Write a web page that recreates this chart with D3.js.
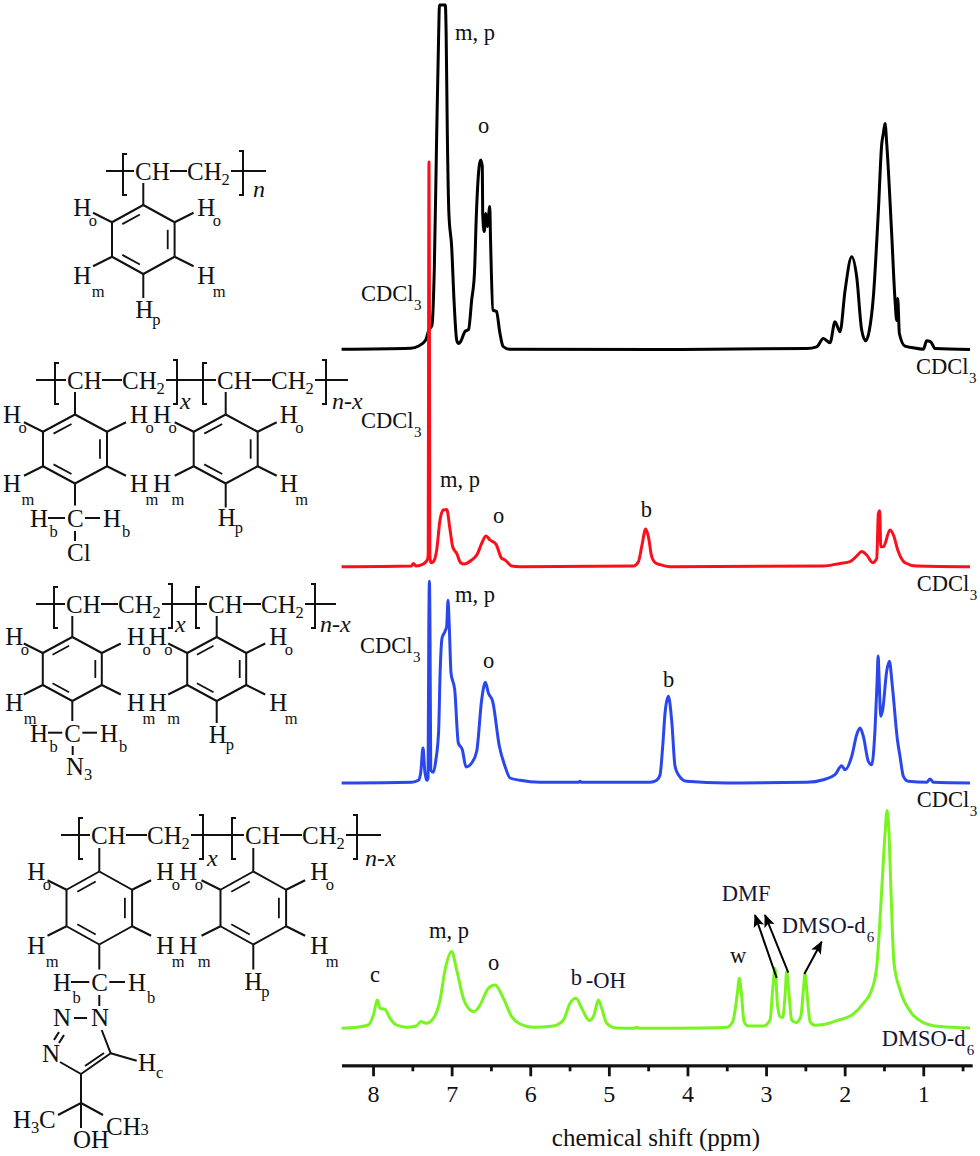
<!DOCTYPE html>
<html><head><meta charset="utf-8">
<script src="https://cdn.jsdelivr.net/npm/d3@7"></script>
<style>html,body{margin:0;padding:0;background:#fff}svg{display:block}text{font-family:'Liberation Serif',serif;fill:#111}</style>
</head><body><svg id="c" width="980" height="1156"></svg>
<script>
// [chemical shift (ppm), intensity]
const seriesBlack=[[8.40,.2],[7.52,1.2],[7.42,3.5],[7.33,9.5],[7.29,19.5],[7.25,24.5],[7.22,83],[7.19,216],[7.165,316],[7.155,344.5],[7.08,344.5],[7.07,316],[7.055,216],[7.035,136],[7.0,103],[6.97,49.5],[6.936,9.5],[6.915,6],[6.885,8],[6.83,18],[6.785,20],[6.745,49.5],[6.71,76],[6.685,136],[6.65,183],[6.63,189.5],[6.61,183],[6.605,136],[6.585,118],[6.565,136],[6.545,123],[6.515,143],[6.505,109.5],[6.475,39.5],[6.43,38],[6.385,16],[6.345,3],[6.265,.2],[4.36,0],[2.483,1],[2.356,2.7],[2.271,11],[2.186,6.7],[2.123,27.7],[2.059,17.7],[1.995,59],[1.91,92.7],[1.847,72.7],[1.783,19.3],[1.732,8.7],[1.686,19.3],[1.635,52.7],[1.571,139],[1.529,205],[1.508,216],[1.486,226],[1.465,206],[1.402,116],[1.359,49],[1.338,29],[1.325,51],[1.304,16],[1.232,3.3],[1.147,2],[.999,.3],[.956,8.7],[.905,7.7],[.85,1],[.405,0]];
const seriesRed=[[8.40,0],[7.51,.7],[7.487,3.3],[7.453,.7],[7.36,2.7],[7.31,6.7],[7.298,12],[7.292,300],[7.288,404.7],[7.284,300],[7.277,12],[7.267,4],[7.233,5],[7.19,16.7],[7.148,46.7],[7.105,56.7],[7.063,57.3],[7.02,36.7],[6.987,20],[6.936,13.3],[6.885,4],[6.842,2.7],[6.745,6.7],[6.673,12.7],[6.618,23.3],[6.563,30.7],[6.512,26.7],[6.435,22.3],[6.363,8.3],[6.321,6.7],[6.236,.7],[6.13,0],[4.688,.7],[4.624,5],[4.582,20],[4.531,37.7],[4.497,30],[4.455,10],[4.412,4],[4.349,2],[4.22,0],[2.271,.7],[2.059,3.3],[1.932,5],[1.847,10.7],[1.783,15.3],[1.72,11.7],[1.643,4],[1.592,8.3],[1.571,53.3],[1.554,56],[1.541,20],[1.507,20],[1.423,36.7],[1.38,31.7],[1.317,15],[1.232,4],[1.084,.7],[.405,0]];
const seriesBlue=[[8.40,0],[7.508,.7],[7.423,2.7],[7.394,10],[7.364,35],[7.343,13],[7.317,2.7],[7.3,5],[7.291,150],[7.283,201.7],[7.275,150],[7.266,13],[7.233,10.7],[7.2,23.3],[7.165,53],[7.148,106.7],[7.122,145],[7.084,151.7],[7.063,156.7],[7.046,182.7],[7.03,156.7],[7.008,110],[6.961,93.3],[6.915,40],[6.864,33.3],[6.817,16],[6.745,20],[6.681,31.7],[6.618,83.3],[6.571,100.7],[6.533,90],[6.478,81.7],[6.393,36.7],[6.321,16.7],[6.257,5],[6.13,2.7],[5.875,.7],[5.388,.7],[5.367,1.7],[5.345,.7],[4.476,.7],[4.391,2.7],[4.349,8],[4.315,36.7],[4.285,70],[4.243,86.7],[4.2,62],[4.158,16.7],[4.116,8.3],[4.01,1.7],[3.5,0],[2.483,.7],[2.271,3.3],[2.123,8.3],[2.038,17.3],[1.995,13.3],[1.91,26.7],[1.847,48.3],[1.805,55],[1.762,46.7],[1.699,21.7],[1.656,18.3],[1.614,53.3],[1.586,105],[1.574,127],[1.562,105],[1.541,66.7],[1.516,73.3],[1.465,112],[1.431,121.7],[1.393,96.7],[1.329,43.3],[1.296,26.7],[1.253,6.7],[1.19,1.7],[.956,.7],[.914,4],[.871,.7],[.405,0]];
const seriesGreen=[[8.40,0],[8.208,1],[8.06,3.3],[7.996,13.3],[7.945,28.3],[7.911,20],[7.847,19],[7.784,10],[7.699,3.3],[7.572,1],[7.453,2.3],[7.39,6.7],[7.326,5],[7.233,10],[7.148,28.3],[7.084,58.3],[7,76.7],[6.936,58.3],[6.851,30],[6.766,18.3],[6.715,16.7],[6.639,23.3],[6.533,40],[6.448,43.3],[6.342,30],[6.236,11.7],[6.13,4.3],[5.96,1],[5.706,2.3],[5.578,8.3],[5.494,25],[5.418,30],[5.345,20],[5.248,7.7],[5.189,13.3],[5.133,28.3],[5.091,20],[5.027,5],[4.9,.3],[4.688,0],[4.646,1],[4.603,0],[4.349,0],[3.798,.3],[3.5,1],[3.424,6.7],[3.365,35],[3.34,50],[3.314,35],[3.28,6.7],[3.225,2.3],[3.034,2.3],[2.949,8.3],[2.916,38.3],[2.886,60],[2.856,25],[2.822,11.7],[2.788,10.7],[2.759,31.7],[2.737,56.7],[2.716,41.7],[2.674,8.3],[2.619,5.7],[2.559,11.7],[2.525,38.3],[2.504,54.3],[2.475,31.7],[2.44,6.7],[2.377,3],[2.271,3.7],[2.101,7.7],[1.889,14.3],[1.762,25],[1.656,38.3],[1.592,61.7],[1.529,138],[1.486,195],[1.46,217.7],[1.436,195],[1.414,145],[1.372,65],[1.295,38.3],[1.147,15],[.999,5.7],[.787,1.7],[.405,.3]];
const majorTicks=[8,7,6,5,4,3,2,1];
const minorTicks=[7.5,6.5,5.5,4.5,3.5,2.5,1.5,.5];
const axisTitle="chemical shift (ppm)";

const svg=d3.select("#c");
const x=d3.scaleLinear().domain([8.4,.38]).range([341.6,972]);

// ---------- spectra ----------
const panels=[
 {data:seriesBlack,color:"#000000",base:349.5,w:3},
 {data:seriesRed,color:"#fb0f1c",base:566.7,w:3},
 {data:seriesBlue,color:"#2a47ee",base:783,w:3},
 {data:seriesGreen,color:"#78f41f",base:1028.3,w:3}];
panels.forEach(p=>{
  const y=d3.scaleLinear().domain([0,400]).range([p.base,p.base-400]);
  const line=d3.line().x(d=>x(d[0])).y(d=>y(d[1])).curve(d3.curveMonotoneX);
  svg.append("path").attr("d",line(p.data)).attr("fill","none").attr("stroke",p.color)
     .attr("stroke-width",p.w).attr("stroke-linejoin","round");
});

// ---------- axis ----------
const axisG=svg.append("g").attr("transform","translate(0,1065.3)");
const major=d3.axisBottom(x).tickValues(majorTicks).tickSize(11).tickPadding(9).tickSizeOuter(0).tickFormat(d3.format("d"));
const minor=d3.axisBottom(x).tickValues(minorTicks).tickSize(6).tickSizeOuter(0).tickFormat("");
axisG.append("g").call(minor);
axisG.append("g").call(major);
axisG.selectAll("path,line").attr("stroke","#111").attr("stroke-width",2.8);
axisG.selectAll("text").attr("font-size",24).attr("font-family","'Liberation Serif'").attr("fill","#111");
svg.append("text").attr("x",656).attr("y",1146).attr("text-anchor","middle").attr("font-size",25).text(axisTitle);

// ---------- text helpers ----------
function txt(xp,yp,s,size=22.5,o={}){
  return svg.append("text").attr("x",xp).attr("y",yp).attr("font-size",size)
    .attr("font-style",o.italic?"italic":null).style("fill",o.fill||null).text(s);
}
function lab(xp,yp,s,sub,sdx,sdy,size=22.5,subSize=15,fill){
  txt(xp,yp,s,size,{fill});
  if(sub) txt(xp+sdx,yp+sdy,sub,subSize,{fill});
}
const navy="#15153a";
// spectrum annotations
[[455,40,"m, p"],[478,132.7,"o"],[440,486.7,"m, p"],[493,522.7,"o"],[640.7,517,"b"],
 [455,602,"m, p"],[483,668,"o"],[663,686.7,"b"],[370,982,"c"],[429,938,"m, p"],[488,970,"o"],[730,963,"w"]]
 .forEach(d=>txt(d[0],d[1],d[2]));
[[361,301],[916,374],[361,428],[916.7,590.7],[360,652.7],[916.7,806.7]]
 .forEach(d=>lab(d[0],d[1],"CDCl","3",53,9));
txt(570.7,985,"b",22.5,{fill:navy});
txt(585.7,988,"-OH",22.5,{fill:navy});
txt(721.7,900.7,"DMF",22.5,{fill:navy});
lab(781.7,932.7,"DMSO-d","6",85,9,22.5,15,navy);
lab(881.7,1045.7,"DMSO-d","6",85,9,22.5,15,navy);

// arrows
const defs=svg.append("defs");
defs.append("marker").attr("id","ah").attr("markerUnits","userSpaceOnUse").attr("viewBox","0 0 12 10")
  .attr("refX",11).attr("refY",5).attr("markerWidth",13).attr("markerHeight",11).attr("orient","auto")
  .append("path").attr("d","M0,0L12,5L0,10L2.5,5Z").attr("fill","#000");
[[776.7,978,755,915],[788.3,972.7,765,915],[804.3,974,821.7,941.7]].forEach(a=>
  svg.append("line").attr("x1",a[0]).attr("y1",a[1]).attr("x2",a[2]).attr("y2",a[3])
     .attr("stroke","#000").attr("stroke-width",2).attr("marker-end","url(#ah)"));

// ---------- chemical structures ----------
function bond(x1,y1,x2,y2,w=2){
  svg.append("line").attr("x1",x1).attr("y1",y1).attr("x2",x2).attr("y2",y2)
     .attr("stroke","#111").attr("stroke-width",w);
}
function bracket(xp,y1,y2,dir){
  svg.append("path").attr("d",`M${xp+dir*4},${y1}H${xp}V${y2}H${xp+dir*4}`)
     .attr("fill","none").attr("stroke","#111").attr("stroke-width",2);
}
const S=25,SS=16.5;
function chem(xp,yp,s,sub,sdx,sdy){ txt(xp,yp,s,S); if(sub) txt(xp+sdx,yp+sdy,sub,SS); }
function chain(c){
  const yb=c.y+9;
  bond(c.start,c.y,c.segs[0].ch-1,c.y);
  c.segs.forEach((s,i)=>{
    chem(s.ch,yb,"CH");
    bond(s.ch+35,c.y,s.ch2,c.y);
    chem(s.ch2,yb,"CH","2",34.5,5);
    bracket(s.bl,c.y-17,c.y+24,1);
    bracket(s.br,c.y-20,c.y+24,-1);
    const nxt=c.segs[i+1];
    bond(s.ch2+44,c.y,nxt?nxt.ch-1:c.end,c.y);
    txt(s.subX,c.y+c.subDy,s.sub,S-1,{italic:true});
  });
}
function ring(cx,cy,rx,ry,o){
  const v=[[0,-ry],[rx,-ry/2],[rx,ry/2],[0,ry],[-rx,ry/2],[-rx,-ry/2]].map(p=>[cx+p[0],cy+p[1]]);
  v.forEach((p,i)=>{const q=v[(i+1)%6];bond(p[0],p[1],q[0],q[1],2);});
  [[5,0],[1,2],[4,3]].forEach(e=>{
    const a=v[e[0]],b=v[e[1]],f=.78,g=.14;
    const ia=[cx+(a[0]-cx)*f,cy+(a[1]-cy)*f],ib=[cx+(b[0]-cx)*f,cy+(b[1]-cy)*f];
    bond(ia[0]+(ib[0]-ia[0])*g,ia[1]+(ib[1]-ia[1])*g,ib[0]-(ib[0]-ia[0])*g,ib[1]-(ib[1]-ia[1])*g,1.8);
  });
  const dx=19,dy=9.5;
  bond(v[5][0],v[5][1],v[5][0]-dx,v[5][1]-dy);
  bond(v[1][0],v[1][1],v[1][0]+dx,v[1][1]-dy);
  bond(v[4][0],v[4][1],v[4][0]-dx,v[4][1]+dy);
  bond(v[2][0],v[2][1],v[2][0]+dx,v[2][1]+dy);
  bond(cx,cy-ry,cx,o.topY);
  chem(cx+o.lx,cy+o.oy,"H","o",15.5,10);
  chem(cx+o.rx,cy+o.oy,"H","o",15.5,10);
  chem(cx+o.lx,cy+o.my,"H","m",18.5,13);
  chem(cx+o.rx,cy+o.my,"H","m",15.5,13);
  if(o.hp){ bond(cx,cy+ry,cx,cy+ry+o.hp[0]); chem(cx-8+(o.hp[2]||0),cy+o.hp[1],"H","p",17,7); }
  else bond(cx,cy+ry,cx,cy+ry+o.down);
}
function benzyl(cx,yC,xL,xR,subDy){
  chem(cx-8,yC,"C");
  bond(xL+18,yC-9,cx-10,yC-9,2); bond(cx+10,yC-9,xR-3,yC-9,2);
  chem(xL,yC,"H","b",19.5,subDy); chem(xR,yC,"H","b",19,subDy);
}

// 1 polystyrene
chain({y:171,start:106,end:266,subDy:26,segs:[{bl:123,ch:135,ch2:187,br:243,subX:253,sub:"n"}]});
ring(143.3,239.5,31.3,34.5,{topY:183,lx:-70,rx:54,oy:-24,my:44.5,hp:[24,78.5]});

// 2 chloromethyl
chain({y:380,start:36,end:348,subDy:29,segs:[
 {bl:55,ch:67,ch2:122,br:177,subX:180,sub:"x"},
 {bl:203,ch:217,ch2:271,br:326,subX:332,sub:"n-x"}]});
ring(75,449,32,34.5,{topY:392,lx:-72,rx:55,oy:-26,my:43,down:22});
ring(225.7,449,32,34.5,{topY:392,lx:-72.7,rx:54,oy:-26,my:43,hp:[24,77]});
benzyl(75,527,30,103,10);
bond(75,531,75,541,2);
chem(67,561,"Cl");

// 3 azidomethyl
chain({y:604,start:36,end:336,subDy:28,segs:[
 {bl:54,ch:66,ch2:118,br:172,subX:175,sub:"x"},
 {bl:196,ch:208,ch2:261,br:315,subX:320,sub:"n-x"}]});
ring(72.3,669,29.5,32,{topY:616,lx:-67,rx:54.7,oy:-24,my:41.7,down:20});
ring(216.7,669,29.5,32,{topY:616,lx:-68,rx:52.6,oy:-24,my:41.7,hp:[22,74]});
benzyl(72.3,741.7,30,100,10);
bond(72.7,746,72.7,755,2);
chem(66,775,"N","3",18,5);

// 4 triazole
chain({y:835,start:61,end:381,subDy:31,segs:[
 {bl:79,ch:91,ch2:147,br:203,subX:207,sub:"x"},
 {bl:232,ch:245,ch2:302,br:357,subX:365,sub:"n-x"}]});
ring(99.3,908,32.8,36.5,{topY:848,lx:-72,rx:57,oy:-28,my:46,down:25});
ring(253.3,908,32.8,36.5,{topY:848,lx:-74,rx:57,oy:-28,my:46,hp:[25,82,-1]});
benzyl(99.3,991,53,128,12);
bond(99.3,995,99.3,1006,2);
chem(91,1026,"N");
chem(53,1026,"N");
bond(74,1018,87,1018,2);
bond(59,1032,54,1040,2); bond(64,1035,59,1043,2);
chem(42,1062,"N");
bond(60,1062,81,1074,2);
bond(81,1074,110.7,1053.3,2);
bond(85,1066,104,1053,2);
bond(101.7,1030,110.7,1053.3,2);
bond(110.7,1053.3,136.7,1060.7,2);
chem(138,1071,"H","c",18,7);
bond(81,1074,81,1103,2);
bond(81,1103,58,1115,2);
bond(81,1103,103,1115,2);
bond(81,1103,81,1128,2);
chem(13,1128,"H","3",18,5);
chem(39,1128,"C");
chem(106,1135,"CH","3",34.5,0);
chem(73,1147.7,"OH");
</script></body></html>
